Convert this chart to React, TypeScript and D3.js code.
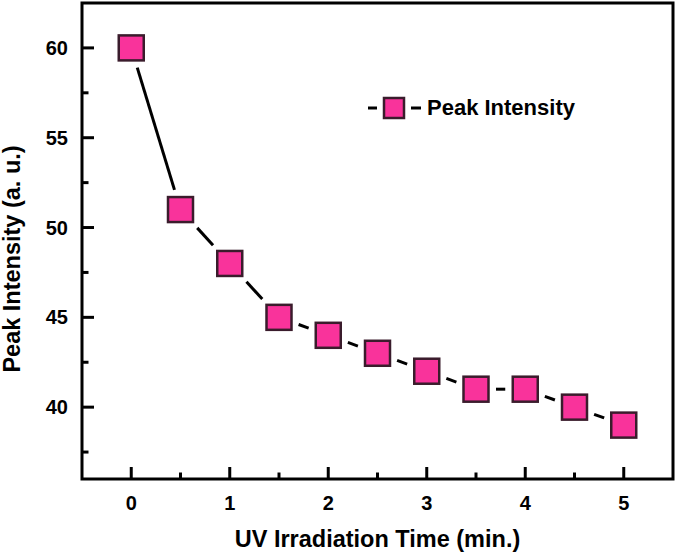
import React from "react";
import * as d3 from "d3";

const times = [0, 0.5, 1, 1.5, 2, 2.5, 3, 3.5, 4, 4.5, 5];
const intensity = [60, 51, 48, 45, 44, 43, 42, 41, 41, 40, 39];
const xMajorTicks = [0, 1, 2, 3, 4, 5];
const xMinorTicks = [0.5, 1.5, 2.5, 3.5, 4.5];
const yMajorTicks = [40, 45, 50, 55, 60];
const yMinorTicks = [37.5, 42.5, 47.5, 52.5, 57.5];
const seriesName = "Peak Intensity";
const xTitle = "UV Irradiation Time (min.)";
const yTitle = "Peak Intensity (a. u.)";

const W = 677;
const H = 556;
const FONT = "'Liberation Sans', Arial, Helvetica, sans-serif";
const FILL = "#F9339B";
const EDGE = "#3a1c2c";

export default function App() {
  const left = 82, right = 673, top = 3, bottom = 479;
  const x = d3.scaleLinear().domain([-0.5, 5.5]).range([left, right]);
  const y = d3.scaleLinear().domain([36, 62.5]).range([bottom, top]);

  const mSize = 25;
  const gap = 6.5;
  const pts = times.map((t, i) => [x(t), y(intensity[i])] as [number, number]);

  const segs: { x1: number; y1: number; x2: number; y2: number }[] = [];
  for (let i = 0; i < pts.length - 1; i++) {
    const [ax, ay] = pts[i];
    const [bx, by] = pts[i + 1];
    const dx = bx - ax, dy = by - ay;
    const len = Math.hypot(dx, dy);
    const ux = dx / len, uy = dy / len;
    const h = mSize / 2 + 1;
    const toEdge = h / Math.max(Math.abs(ux), Math.abs(uy));
    const off = toEdge + gap;
    if (len - 2 * off > 0) {
      segs.push({ x1: ax + ux * off, y1: ay + uy * off, x2: bx - ux * off, y2: by - uy * off });
    }
  }

  const legX = 394, legY = 108;
  const legSize = 20;

  return (
    <svg
      width={W}
      height={H}
      viewBox={`0 0 ${W} ${H}`}
      style={{ position: "absolute", left: 0, top: 0, background: "#fff" }}
      fontFamily={FONT}
      fontWeight="bold"
    >
      <rect x={0} y={0} width={W} height={H} fill="#fff" />
      {/* ticks */}
      {yMajorTicks.map((v) => (
        <line key={"ym" + v} x1={left} x2={left + 12} y1={y(v)} y2={y(v)} stroke="#000" strokeWidth={3} />
      ))}
      {yMinorTicks.map((v) => (
        <line key={"yn" + v} x1={left} x2={left + 6.5} y1={y(v)} y2={y(v)} stroke="#000" strokeWidth={3} />
      ))}
      {xMajorTicks.map((v) => (
        <line key={"xm" + v} x1={x(v)} x2={x(v)} y1={bottom} y2={bottom - 12} stroke="#000" strokeWidth={3} />
      ))}
      {xMinorTicks.map((v) => (
        <line key={"xn" + v} x1={x(v)} x2={x(v)} y1={bottom} y2={bottom - 6.5} stroke="#000" strokeWidth={3} />
      ))}
      {/* frame */}
      <rect x={left} y={top} width={right - left} height={bottom - top} fill="none" stroke="#000" strokeWidth={3} />
      {/* tick labels */}
      {yMajorTicks.map((v) => (
        <text key={"yl" + v} x={left - 14} y={y(v)} dy="0.35em" textAnchor="end" fontSize={20} fill="#000">
          {v}
        </text>
      ))}
      {xMajorTicks.map((v) => (
        <text key={"xl" + v} x={x(v)} y={510} textAnchor="middle" fontSize={20} fill="#000">
          {v}
        </text>
      ))}
      {/* titles */}
      <text x={(left + right) / 2} y={547} textAnchor="middle" fontSize={23.5} fill="#000">
        {xTitle}
      </text>
      <text
        transform={`translate(20, 259) rotate(-90)`}
        textAnchor="middle"
        fontSize={23.5}
        fill="#000"
      >
        {yTitle}
      </text>
      {/* line */}
      {segs.map((s, i) => (
        <line key={"s" + i} x1={s.x1} y1={s.y1} x2={s.x2} y2={s.y2} stroke="#000" strokeWidth={3} />
      ))}
      {/* markers */}
      {pts.map(([px, py], i) => (
        <rect
          key={"m" + i}
          x={px - mSize / 2}
          y={py - mSize / 2}
          width={mSize}
          height={mSize}
          fill={FILL}
          stroke={EDGE}
          strokeWidth={2.5}
        />
      ))}
      {/* legend */}
      <line x1={368} x2={377} y1={legY} y2={legY} stroke="#000" strokeWidth={3} />
      <line x1={411} x2={421} y1={legY} y2={legY} stroke="#000" strokeWidth={3} />
      <rect
        x={legX - legSize / 2}
        y={legY - legSize / 2}
        width={legSize}
        height={legSize}
        fill={FILL}
        stroke={EDGE}
        strokeWidth={2.5}
      />
      <text x={427} y={115} fontSize={22} fill="#000">
        {seriesName}
      </text>
    </svg>
  );
}
